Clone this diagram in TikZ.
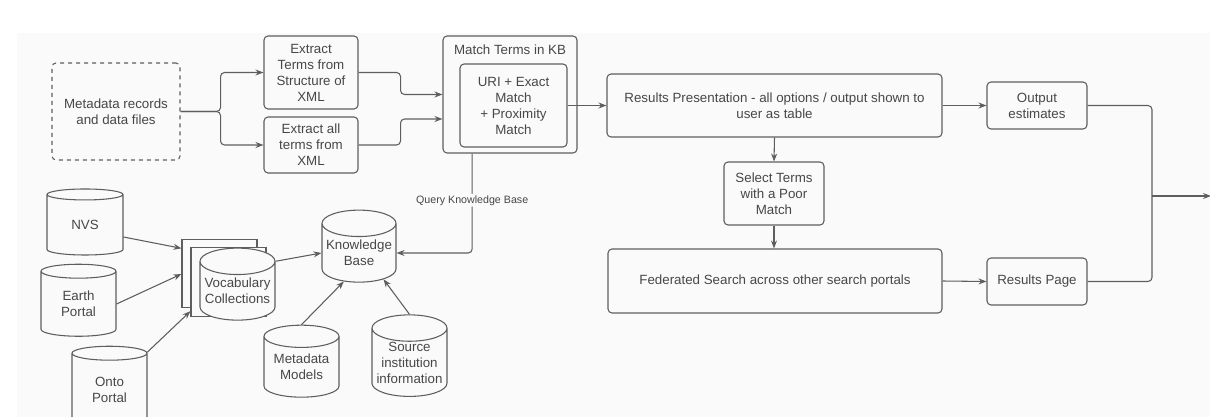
\documentclass[tikz,border=0pt]{standalone}
\usepackage{fontspec}
\setmainfont{Liberation Sans}
\usetikzlibrary{arrows.meta, positioning, calc, shapes.geometric}
\definecolor{LineGray}{HTML}{5E5E5E}
\definecolor{TextGray}{HTML}{474747}
\definecolor{CanvasGray}{HTML}{FAFAFA}

\begin{document}
\begin{tikzpicture}[
  x=0.75pt, y=-0.75pt,
  box/.style={rectangle, draw=LineGray, line width=0.8pt, rounded corners=3pt,
    fill=CanvasGray, text=TextGray, align=center,
    font=\fontsize{10}{12}\selectfont, inner sep=0pt},
  store/.style={cylinder, shape border rotate=90, aspect=0.4, draw=LineGray,
    line width=0.8pt, fill=CanvasGray, text=TextGray, align=center,
    font=\fontsize{10}{12}\selectfont, inner sep=0pt},
  link/.style={->, draw=LineGray, line width=0.8pt, rounded corners=3pt},
  >={Stealth[length=6pt, width=4.5pt]}
]
  \useasboundingbox (0,0) rectangle (1210,417);
  \fill[CanvasGray] (17,33) rectangle (1210,417);

  % input side
  \node[box, dashed, minimum width=96pt, minimum height=72.75pt] (meta) at (116,111.5)
    {Metadata records\\and data files};
  \node[box, minimum width=70.5pt, minimum height=54.75pt] (exstruct) at (311,72.5)
    {Extract\\Terms from\\Structure of\\XML};
  \node[box, minimum width=70.5pt, minimum height=42pt] (exall) at (311,145)
    {Extract all\\terms from\\XML};

  % matching
  \node[box, minimum width=100.5pt, minimum height=87.75pt] (match) at (510,94.5) {};
  \node[text=TextGray, font=\fontsize{10}{12}\selectfont] (matchlbl) at (510,50) {Match Terms in KB};
  \node[box, minimum width=80.25pt, minimum height=62.25pt] (inner) at (513.5,105.5)
    {URI + Exact\\Match\\+ Proximity\\Match};

  % results
  \node[box, minimum width=251.25pt, minimum height=47.25pt] (results) at (774.5,105.5)
    {Results Presentation - all options / output shown to\\user as table};
  \node[box, minimum width=75pt, minimum height=35.25pt] (outest) at (1037,105.5)
    {Output\\estimates};
  \node[box, minimum width=75pt, minimum height=47.25pt] (select) at (774,193.5)
    {Select Terms\\with a Poor\\Match};
  \node[box, minimum width=250.5pt, minimum height=48pt] (fed) at (775,281)
    {Federated Search across other search portals};
  \node[box, minimum width=75pt, minimum height=35.25pt] (respage) at (1037,281.5)
    {Results Page};

  % vocabularies and knowledge base
  \node[store, minimum width=57pt, minimum height=49.5pt] (nvs) at (85,225) {NVS};
  \node[store, minimum width=56.25pt, minimum height=54pt] (earth) at (78.5,304) {Earth\\Portal};
  \node[store, minimum width=56.25pt, minimum height=60pt] (onto) at (109.5,390) {Onto\\Portal};
  \node[store, minimum width=56.25pt, minimum height=51pt] (vocA) at (219.5,274) {};
  \node[store, minimum width=56.25pt, minimum height=51.75pt] (vocB) at (228.5,282.5) {};
  \node[store, minimum width=56.25pt, minimum height=54pt] (voc) at (237.5,291) {Vocabulary\\Collections};
  \node[store, minimum width=55.5pt, minimum height=54pt] (kb) at (359,253) {Knowledge\\Base};
  \node[store, minimum width=56.25pt, minimum height=54pt] (mm) at (301.5,367) {Metadata\\Models};
  \node[store, minimum width=56.25pt, minimum height=53.25pt] (src) at (409.5,362.5) {Source\\institution\\information};

  \coordinate (join) at (1152,196);
  \coordinate (exit) at (1211,196);

  % connectors
  \draw[link] (meta.east) -- ++(40,0) |- (exstruct.west);
  \draw[link] (meta.east) -- ++(40,0) |- (exall.west);
  \draw[link] (exstruct.east) -- ++(42,0) |- (match.west);
  \draw[link] (exall.east) -- ++(42,0) |- ($(match.west)+(0,24.5)$);
  \draw[link] (inner.east) -- (results.west);
  \draw[link] (results.east) -- (outest.west);
  \draw[link] (results.south) -- (select.north);
  \draw[link] (select.south) -- (select.south |- fed.north);
  \draw[link] (fed.east) -- (respage.west);
  \draw[link, -] (outest.east) -| (join);
  \draw[link, -] (respage.east) -| (join);
  \draw[link] (join) -- (exit);

  \draw[link] ($(match.south west)!0.22!(match.south east)$) |- (kb.east)
    node[pos=0.235, fill=CanvasGray, text=TextGray, inner sep=1pt,
      font=\fontsize{8}{9}\selectfont] {Query Knowledge Base};
  \draw[link] ($(nvs.east)+(0,12)$) -- (vocA.146);
  \draw[link] (earth.east) -- (vocA.west);
  \draw[link] (onto.45) -- (vocB.217);
  \draw[link] (voc.38) -- (kb.west);
  \draw[link] (mm.north) -- (kb.242);
  \draw[link] (src.north) -- (kb.313);
\end{tikzpicture}
\end{document}
